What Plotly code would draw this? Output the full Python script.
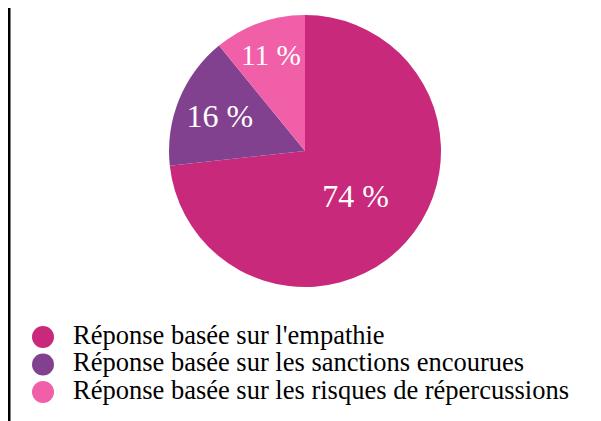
import plotly.graph_objects as go

categories = ["Réponse basée sur l'empathie",
              "Réponse basée sur les sanctions encourues",
              "Réponse basée sur les risques de répercussions"]
values = [74, 16, 11]
value_labels = ["74 %", "16 %", "11 %"]
colors = ["#C9297A", "#82418E", "#F05FA7"]

W, H = 601, 421
SERIF = "Liberation Serif, Times New Roman, serif"
fig = go.Figure()

fig.add_trace(go.Pie(
    values=values, labels=categories, text=value_labels,
    textinfo="text", textposition="inside", insidetextorientation="horizontal",
    sort=False, direction="clockwise", rotation=0,
    marker=dict(colors=colors, line=dict(width=0)),
    textfont=dict(family=SERIF, size=32, color="white"),
    showlegend=False, hoverinfo="label+percent",
    domain=dict(x=[(297-136)/W, (297+136)/W], y=[1-279/H, 1-7/H]),
))

# legend drawn as category markers + labels
rows = list(range(len(categories)))
fig.add_trace(go.Scatter(
    x=[0]*len(categories), y=rows, mode="markers",
    marker=dict(size=22, color=colors, line=dict(width=0)),
    cliponaxis=False, showlegend=False, hoverinfo="skip",
))
fig.add_trace(go.Scatter(
    x=[0.857]*len(categories), y=rows, mode="text", text=categories,
    textposition="middle right",
    textfont=dict(family=SERIF, size=26.5, color="black"),
    cliponaxis=False, showlegend=False, hoverinfo="skip",
))

fig.update_layout(
    width=W, height=H,
    margin=dict(l=0, r=0, t=0, b=0),
    paper_bgcolor="white", plot_bgcolor="rgba(0,0,0,0)",
    xaxis=dict(domain=[0, 70/W], range=[-1, 1], visible=False, fixedrange=True),
    yaxis=dict(domain=[1-397.75/H, 1-315.25/H], range=[2.5, -0.5], visible=False, fixedrange=True),
    shapes=[dict(type="line", xref="paper", yref="paper", x0=1/W, x1=1/W, y0=0, y1=1,
                 line=dict(color="black", width=3))],
)

fig.write_html("out.html")
